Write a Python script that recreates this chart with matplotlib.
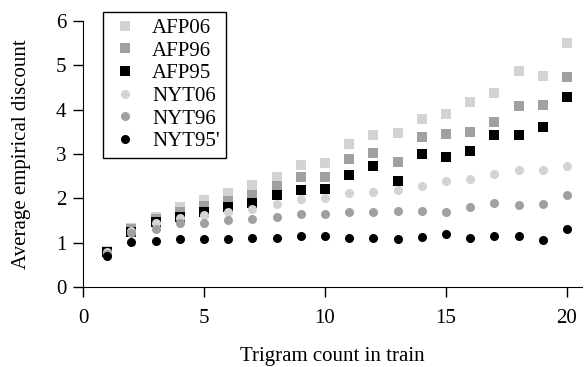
import matplotlib
matplotlib.use("Agg")
import matplotlib.pyplot as plt

plt.rcParams['font.family'] = ['Liberation Serif', 'DejaVu Serif']

counts = list(range(1, 21))

afp06 = [0.82, 1.33, 1.58, 1.80, 1.96, 2.12, 2.30, 2.48, 2.75, 2.79,
         3.22, 3.42, 3.47, 3.78, 3.90, 4.17, 4.37, 4.87, 4.75, 5.50]
afp96 = [0.80, 1.30, 1.53, 1.69, 1.83, 1.94, 2.08, 2.28, 2.48, 2.48,
         2.88, 3.02, 2.81, 3.38, 3.44, 3.49, 3.72, 4.08, 4.10, 4.74]
afp95 = [0.78, 1.25, 1.47, 1.58, 1.70, 1.81, 1.89, 2.07, 2.18, 2.20,
         2.52, 2.72, 2.38, 2.99, 2.94, 3.06, 3.42, 3.42, 3.62, 4.29]
nyt06 = [0.78, 1.27, 1.44, 1.56, 1.62, 1.69, 1.76, 1.87, 1.98, 2.01,
         2.13, 2.14, 2.19, 2.28, 2.39, 2.43, 2.55, 2.63, 2.65, 2.74]
nyt96 = [0.75, 1.22, 1.31, 1.44, 1.45, 1.51, 1.53, 1.58, 1.64, 1.64,
         1.69, 1.69, 1.71, 1.71, 1.69, 1.80, 1.89, 1.85, 1.87, 2.08]
nyt95 = [0.70, 1.02, 1.03, 1.08, 1.08, 1.09, 1.10, 1.10, 1.14, 1.15,
         1.11, 1.11, 1.08, 1.12, 1.19, 1.10, 1.15, 1.15, 1.06, 1.31]

series = [
    ("AFP06", afp06, 's', '#d3d3d3'),
    ("AFP96", afp96, 's', '#a0a0a0'),
    ("AFP95", afp95, 's', '#000000'),
    ("NYT06", nyt06, 'o', '#d3d3d3'),
    ("NYT96", nyt96, 'o', '#a0a0a0'),
    ("NYT95'", nyt95, 'o', '#000000'),
]

fig = plt.figure(figsize=(5.87, 3.67), dpi=100)
ax = fig.add_axes([83/587, 80/367, 499/587, 266/367])

for name, vals, mk, col in series:
    ax.plot(counts, vals, linestyle='none', marker=mk, color=col,
            markersize=6.5, markeredgewidth=0, label=name)

ax.set_xlim(0, 20.62)
ax.set_ylim(0, 6)
ax.set_xticks([0, 5, 10, 15, 20])
ax.set_yticks(range(0, 7))
ax.spines['top'].set_visible(False)
ax.spines['right'].set_visible(False)
ax.tick_params(direction='out', length=7, width=1, labelsize=15)
ax.tick_params(axis='x', pad=9)
ax.tick_params(axis='y', pad=5)
ax.set_xlabel("Trigram count in train", fontsize=15, labelpad=13.5)
ax.set_ylabel("Average empirical discount", fontsize=15, labelpad=18)

leg = ax.legend(loc='upper left', bbox_to_anchor=(103/587, 1 - 12/367),
                bbox_transform=fig.transFigure, borderaxespad=0,
                fontsize=15, frameon=True,
                fancybox=False, edgecolor='black', framealpha=1,
                handletextpad=0.55, labelspacing=0.15, borderpad=0.3,
                handlelength=1.5)
leg.get_frame().set_linewidth(1)

fig.savefig("out.png", dpi=100)
